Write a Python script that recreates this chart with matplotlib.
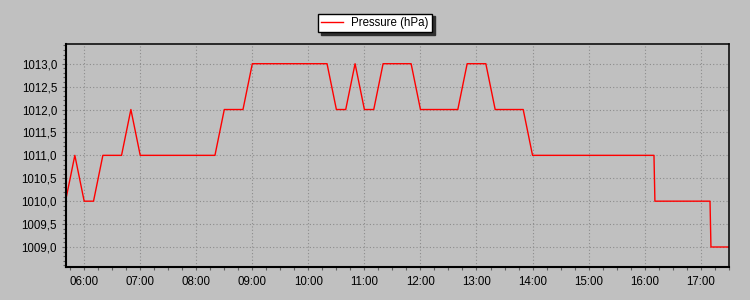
import matplotlib
matplotlib.use("Agg")
from matplotlib import pyplot as plt
import matplotlib.dates as mdates
from matplotlib.ticker import FuncFormatter, MultipleLocator
import pandas as pd

# readings (time of day, hPa)
times = ["05:40", "05:50", "06:00", "06:10", "06:20", "06:40", "06:50", "07:00",
         "08:20", "08:30", "08:50", "09:00", "10:20", "10:30", "10:40", "10:50",
         "11:00", "11:10", "11:20", "11:50", "12:00", "12:40", "12:50", "13:10",
         "13:20", "13:50", "14:00", "16:10", "16:11", "17:10", "17:11", "17:30"]
pressure = [1010, 1011, 1010, 1010, 1011, 1011, 1012, 1011,
            1011, 1012, 1012, 1013, 1013, 1012, 1012, 1013,
            1012, 1012, 1013, 1013, 1012, 1012, 1013, 1013,
            1012, 1012, 1011, 1011, 1010, 1010, 1009, 1009]
series_label = "Pressure (hPa)"

t = pd.to_datetime(["2024-01-01 " + s for s in times])

bg = "#c0c0c0"
plt.rcParams["font.family"] = ["Liberation Sans", "DejaVu Sans"]
plt.rcParams["font.size"] = 8.3

fig = plt.figure(figsize=(7.5, 3.0), dpi=100, facecolor=bg)
ax = fig.add_axes([65.5 / 750, 1 - 266.7 / 300, (728.7 - 65.5) / 750, (266.7 - 44) / 300])
ax.set_facecolor(bg)

line, = ax.plot(t, pressure, color="#ff0000", lw=1.0)

ax.set_xlim(pd.Timestamp("2024-01-01 05:40"), pd.Timestamp("2024-01-01 17:30"))
ax.set_ylim(1008.57, 1013.43)

ax.xaxis.set_major_locator(mdates.HourLocator())
ax.xaxis.set_minor_locator(mdates.MinuteLocator(byminute=[0, 15, 30, 45]))
ax.xaxis.set_major_formatter(mdates.DateFormatter("%H:%M"))
ax.yaxis.set_major_locator(MultipleLocator(0.5))
ax.yaxis.set_minor_locator(MultipleLocator(0.1))
ax.yaxis.set_major_formatter(FuncFormatter(lambda v, p: f"{v:.1f}".replace(".", ",")))

ax.grid(True, which="major", color="#8c8c8c", linestyle=(0, (1, 2)), lw=0.8)
ax.tick_params(which="both", color="#606060", labelcolor="black")
ax.tick_params(which="major", length=3, width=0.8, pad=3)
ax.tick_params(which="minor", length=2.5, width=0.8)
ax.tick_params(axis="x", which="major", length=2.5, pad=4)

for side in ("left", "bottom"):
    ax.spines[side].set_linewidth(1.5)
for side in ("top", "right"):
    ax.spines[side].set_linewidth(1.1)

leg = fig.legend([line], [series_label], loc="center", bbox_to_anchor=(375 / 750, 1 - 23 / 300),
                 frameon=True, fancybox=False, edgecolor="black", framealpha=1,
                 facecolor="white", shadow={"color": "#303030", "alpha": 1},
                 handlelength=1.9, handletextpad=0.7, borderpad=0.3, fontsize=8.3)
leg.get_frame().set_linewidth(1.0)

fig.savefig("out.png", dpi=100, facecolor=bg)
